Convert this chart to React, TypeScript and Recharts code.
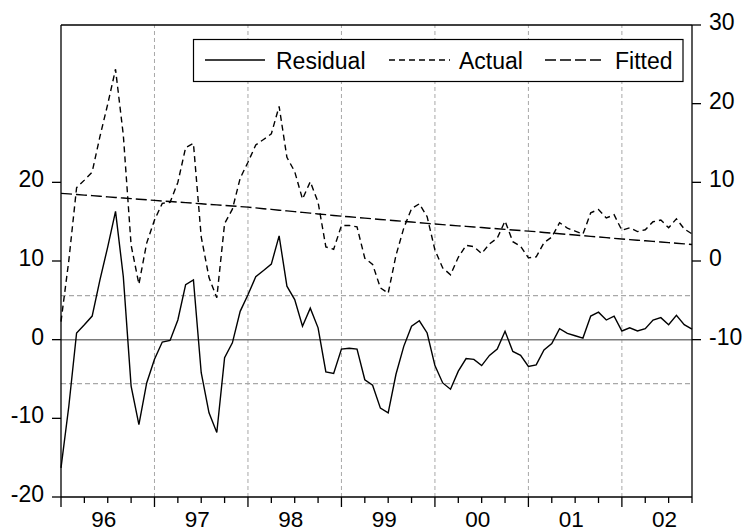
import React from "react";
import { LineChart, Line, XAxis, YAxis, ReferenceLine } from "recharts";

// monthly observations 1996M01 .. 2002M10
const residual = [
  -16.3, -8.5, 0.85, 1.9, 3.0, 7.6, 11.8, 16.3, 8.0, -5.9, -10.8, -5.5,
  -2.5, -0.3, -0.1, 2.5, 7.0, 7.6, -4.2, -9.3, -11.8, -2.3, -0.4, 3.6,
  5.7, 8.0, 8.8, 9.6, 13.2, 6.8, 5.1, 1.7, 4.0, 1.5, -4.1, -4.3,
  -1.2, -1.1, -1.2, -5.1, -5.8, -8.7, -9.3, -4.4, -0.85, 1.7, 2.4, 0.85,
  -3.3, -5.5, -6.3, -4.0, -2.4, -2.5, -3.3, -2.0, -1.2, 1.06, -1.5, -2.0,
  -3.4, -3.2, -1.3, -0.5, 1.4, 0.8, 0.5, 0.2, 3.0, 3.5, 2.5, 3.0,
  1.1, 1.5, 1.1, 1.4, 2.5, 2.8, 1.9, 3.1, 1.9, 1.35,
];

const actual = [
  -7.7, 0.03, 9.31, 10.28, 11.31, 15.83, 19.95, 24.38, 16.0, 2.03, -2.95, 2.28,
  5.2, 7.33, 7.46, 9.99, 14.42, 14.95, 3.07, -2.1, -4.67, 4.76, 6.59, 10.52,
  12.55, 14.75, 15.45, 16.16, 19.66, 13.17, 11.37, 7.88, 10.08, 7.48, 1.79, 1.49,
  4.5, 4.52, 4.33, 0.35, -0.43, -3.42, -4.1, 0.72, 4.18, 6.65, 7.27, 5.63,
  1.4, -0.88, -1.75, 0.47, 2.0, 1.82, 0.95, 2.17, 2.9, 5.08, 2.45, 1.87,
  0.4, 0.52, 2.33, 3.05, 4.87, 4.18, 3.8, 3.42, 6.13, 6.55, 5.47, 5.88,
  3.9, 4.22, 3.74, 3.97, 4.99, 5.21, 4.23, 5.36, 4.08, 3.45,
];

const fitted = [
  8.6, 8.53, 8.46, 8.38, 8.31, 8.23, 8.15, 8.08, 8.0, 7.93, 7.85, 7.78,
  7.7, 7.63, 7.56, 7.49, 7.42, 7.35, 7.27, 7.2, 7.13, 7.06, 6.99, 6.92,
  6.85, 6.75, 6.65, 6.56, 6.46, 6.37, 6.27, 6.18, 6.08, 5.98, 5.89, 5.79,
  5.7, 5.62, 5.53, 5.45, 5.37, 5.28, 5.2, 5.12, 5.03, 4.95, 4.87, 4.78,
  4.7, 4.62, 4.55, 4.47, 4.4, 4.32, 4.25, 4.17, 4.1, 4.02, 3.95, 3.87,
  3.8, 3.72, 3.63, 3.55, 3.47, 3.38, 3.3, 3.22, 3.13, 3.05, 2.97, 2.88,
  2.8, 2.72, 2.64, 2.57, 2.49, 2.41, 2.33, 2.26, 2.18, 2.1,
];

const yearLabels = ["96", "97", "98", "99", "00", "01", "02"];
const leftTicks = [-20, -10, 0, 10, 20];
const rightTicks = [-10, 0, 10, 20, 30];
const seBand = 5.6;

const obs = residual.map((_, i) => {
  const y = 1996 + Math.floor(i / 12);
  const m = (i % 12) + 1;
  return `${y}M${m < 10 ? "0" + m : m}`;
});

const data = residual.map((r, i) => ({
  t: i,
  obs: obs[i],
  residual: r,
  actual: actual[i],
  fitted: fitted[i],
}));

const quarterTicks = data.filter((d) => d.t % 3 === 0).map((d) => d.t);
const yearBreaks = data.filter((d) => d.t > 0 && d.t % 12 === 0).map((d) => d.t);

const FONT = "'Liberation Sans', Arial, sans-serif";
const GRID = "#a8a8a8";

const XTick = (props: any) => {
  const { x, y, payload } = props;
  const v = payload.value;
  const major = v % 12 === 0;
  const lbl = v % 12 === 6 ? yearLabels[(v - 6) / 12] : null;
  return (
    <g>
      <line x1={x} x2={x} y1={y} y2={y + (major ? 10 : 6)} stroke="#000" strokeWidth={1.3} />
      {lbl && (
        <text x={x - 4} y={y + 30} textAnchor="middle" fontSize={22.5} fontFamily={FONT} fill="#000">
          {lbl}
        </text>
      )}
    </g>
  );
};

const LeftTick = (props: any) => (
  <text x={props.x} y={props.y + 5} textAnchor="end" fontSize={23} fontFamily={FONT} fill="#000">
    {props.payload.value}
  </text>
);

const RightTick = (props: any) => (
  <text x={props.x} y={props.y + 5} textAnchor="start" fontSize={23} fontFamily={FONT} fill="#000">
    {props.payload.value}
  </text>
);

const LegendBox = () => (
  <svg width={747} height={100} style={{ position: "absolute", left: 0, top: 0, pointerEvents: "none" }}>
    <rect x={193.5} y={39.5} width={489.5} height={42} fill="#fff" stroke="#000" strokeWidth={1.2} />
    <line x1={205} x2={265} y1={60} y2={60} stroke="#000" strokeWidth={1.4} />
    <text x={276} y={69} fontSize={23} fontFamily={FONT}>Residual</text>
    <line x1={389} x2={450} y1={60} y2={60} stroke="#000" strokeWidth={1.4} strokeDasharray="6 4" />
    <text x={459} y={69} fontSize={23} fontFamily={FONT}>Actual</text>
    <line x1={545} x2={605} y1={60} y2={60} stroke="#000" strokeWidth={1.4} strokeDasharray="11 4" />
    <text x={615} y={69} fontSize={23} fontFamily={FONT}>Fitted</text>
  </svg>
);

export default function App() {
  return (
    <div style={{ position: "absolute", left: 0, top: 0, width: 747, height: 532, background: "#fff" }}>
      <LineChart width={747} height={532} data={data} margin={{ top: 25, right: 0, bottom: 0, left: 0 }}>
        <XAxis
          dataKey="t"
          type="number"
          domain={[0, 81]}
          ticks={quarterTicks}
          tick={<XTick />}
          tickLine={false}
          tickSize={0}
          tickMargin={0}
          height={35}
          axisLine={{ stroke: "#000", strokeWidth: 1.3 }}
          interval={0}
        />
        <YAxis
          yAxisId="left"
          orientation="left"
          domain={[-20, 40]}
          ticks={leftTicks}
          width={61}
          tickSize={9}
          tickMargin={8}
          tick={<LeftTick />}
          tickLine={{ stroke: "#000", strokeWidth: 1.3 }}
          axisLine={{ stroke: "#000", strokeWidth: 1.3 }}
          allowDataOverflow
        />
        <YAxis
          yAxisId="right"
          orientation="right"
          domain={[-30, 30]}
          ticks={rightTicks}
          width={55}
          tickSize={9}
          tickMargin={8}
          tick={<RightTick />}
          tickLine={{ stroke: "#000", strokeWidth: 1.3 }}
          axisLine={{ stroke: "#000", strokeWidth: 1.3 }}
          allowDataOverflow
        />
        {yearBreaks.map((t) => (
          <ReferenceLine key={t} x={t} yAxisId="left" stroke={GRID} strokeDasharray="4 3" />
        ))}
        <ReferenceLine y={seBand} yAxisId="left" stroke={GRID} strokeWidth={1.2} strokeDasharray="5 3" />
        <ReferenceLine y={-seBand} yAxisId="left" stroke={GRID} strokeWidth={1.2} strokeDasharray="5 3" />
        <ReferenceLine y={0} yAxisId="left" stroke="#7a7a7a" strokeWidth={1.5} />
        <ReferenceLine y={40} yAxisId="left" stroke="#000" strokeWidth={1.3} />
        <Line
          yAxisId="right"
          dataKey="fitted"
          type="linear"
          stroke="#000"
          strokeWidth={1.4}
          strokeDasharray="11 4"
          dot={false}
          isAnimationActive={false}
        />
        <Line
          yAxisId="right"
          dataKey="actual"
          type="linear"
          stroke="#000"
          strokeWidth={1.4}
          strokeDasharray="6 4"
          dot={false}
          isAnimationActive={false}
        />
        <Line
          yAxisId="left"
          dataKey="residual"
          type="linear"
          stroke="#000"
          strokeWidth={1.4}
          dot={false}
          isAnimationActive={false}
        />
      </LineChart>
      <LegendBox />
    </div>
  );
}
